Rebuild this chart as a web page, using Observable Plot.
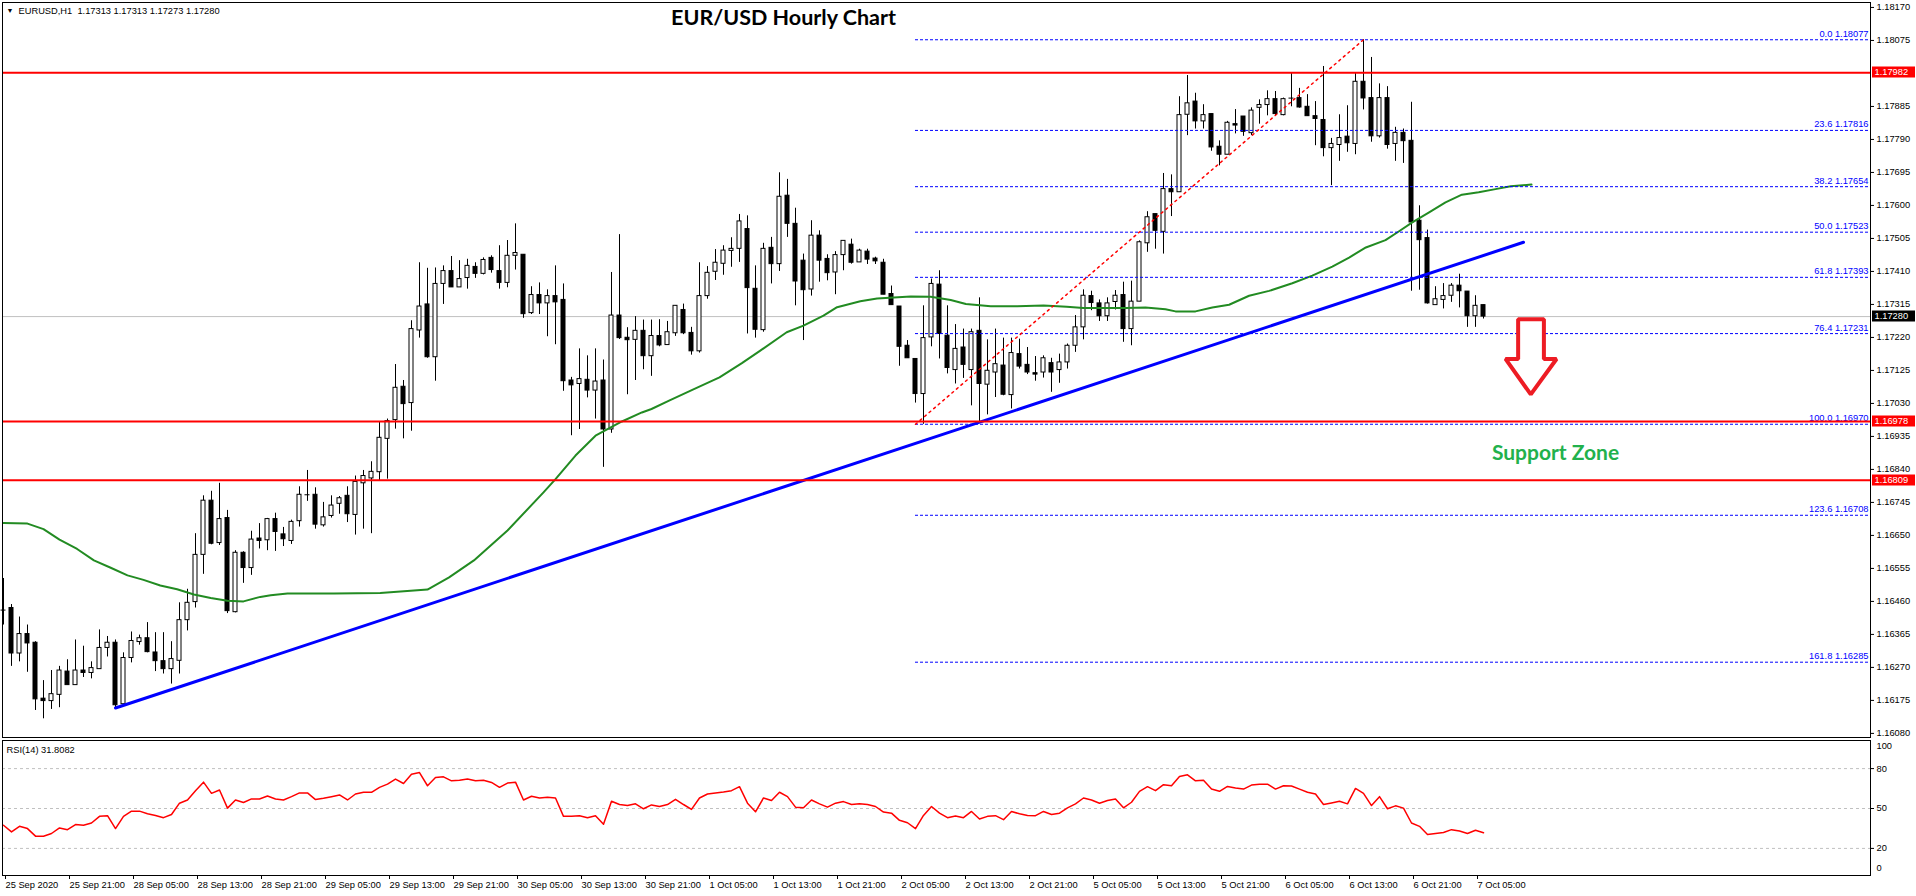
<!DOCTYPE html>
<html><head><meta charset="utf-8">
<script src="https://cdn.jsdelivr.net/npm/d3@7"></script>
<script src="https://cdn.jsdelivr.net/npm/@observablehq/plot@0.6"></script>
<style>
html,body{margin:0;padding:0;background:#fff;}
#chart{width:1916px;height:896px;overflow:hidden;background:#fff;}
#chart svg{display:block;}
</style></head><body><div id="chart"></div>
<script>
// ---------- data ----------
const openP = [1.16435,1.16441,1.16310,1.16366,1.16341,1.16180,1.16173,1.16191,1.16258,1.16219,
1.16261,1.16254,1.16265,1.16326,1.16341,1.16164,1.16297,1.16343,1.16354,1.16313,
1.16288,1.16265,1.16289,1.16406,1.16458,1.16594,1.16750,1.16628,1.16700,1.16429,
1.16600,1.16556,1.16641,1.16636,1.16697,1.16653,1.16634,1.16691,1.16767,1.16767,
1.16679,1.16706,1.16741,1.16764,1.16709,1.16800,1.16814,1.16832,1.16928,1.16982,
1.17078,1.17031,1.17240,1.17315,1.17163,1.17374,1.17411,1.17364,1.17391,1.17423,
1.17403,1.17449,1.17411,1.17377,1.17455,1.17458,1.17290,1.17342,1.17318,1.17339,
1.17328,1.17096,1.17086,1.17098,1.17067,1.17096,1.16955,1.17283,1.17219,1.17213,
1.17239,1.17166,1.17224,1.17198,1.17232,1.17299,1.17233,1.17180,1.17339,1.17409,
1.17432,1.17469,1.17475,1.17532,1.17360,1.17241,1.17478,1.17431,1.17628,1.17547,
1.17441,1.17358,1.17513,1.17446,1.17407,1.17457,1.17487,1.17436,1.17467,1.17447,
1.17435,1.17345,1.17309,1.17196,1.17158,1.17057,1.17220,1.17372,1.17225,1.17126,
1.17191,1.17126,1.17239,1.17084,1.17119,1.17139,1.17054,1.17172,1.17141,1.17117,
1.17119,1.17146,1.17126,1.17148,1.17196,1.17249,1.17339,1.17318,1.17281,1.17322,
1.17342,1.17244,1.17323,1.17491,1.17575,1.17524,1.17647,1.17638,1.17861,1.17899,
1.17842,1.17863,1.17769,1.17746,1.17834,1.17856,1.17808,1.17881,1.17889,1.17906,
1.17860,1.17909,1.17909,1.17884,1.17857,1.17846,1.17765,1.17774,1.17798,1.17777,
1.17956,1.17909,1.17799,1.17909,1.17777,1.17809,1.17786,1.17556,1.17506,1.17313,
1.17328,1.17340,1.17369,1.17352,1.17281,1.17313];
const highP = [1.16526,1.16451,1.16415,1.16392,1.16344,1.16232,1.16261,1.16273,1.16292,1.16349,
1.16331,1.16286,1.16378,1.16359,1.16349,1.16312,1.16372,1.16363,1.16399,1.16370,
1.16370,1.16344,1.16456,1.16495,1.16655,1.16764,1.16777,1.16800,1.16722,1.16606,
1.16603,1.16662,1.16684,1.16699,1.16714,1.16673,1.16694,1.16790,1.16837,1.16787,
1.16745,1.16764,1.16762,1.16790,1.16821,1.16837,1.16862,1.16976,1.16985,1.17142,
1.17096,1.17268,1.17435,1.17419,1.17420,1.17426,1.17453,1.17441,1.17445,1.17435,
1.17449,1.17455,1.17484,1.17499,1.17547,1.17458,1.17366,1.17377,1.17357,1.17426,
1.17374,1.17105,1.17187,1.17167,1.17187,1.17155,1.17407,1.17516,1.17248,1.17280,
1.17270,1.17270,1.17271,1.17266,1.17311,1.17316,1.17249,1.17435,1.17424,1.17473,
1.17484,1.17507,1.17574,1.17570,1.17426,1.17491,1.17508,1.17694,1.17675,1.17592,
1.17460,1.17556,1.17527,1.17458,1.17467,1.17498,1.17503,1.17474,1.17474,1.17451,
1.17445,1.17368,1.17309,1.17211,1.17158,1.17311,1.17388,1.17412,1.17311,1.17257,
1.17244,1.17244,1.17334,1.17213,1.17244,1.17218,1.17218,1.17215,1.17191,1.17165,
1.17167,1.17160,1.17172,1.17201,1.17283,1.17357,1.17353,1.17328,1.17334,1.17355,
1.17379,1.17382,1.17498,1.17582,1.17575,1.17692,1.17688,1.17913,1.17974,1.17923,
1.17890,1.17863,1.17786,1.17842,1.17876,1.17856,1.17881,1.17904,1.17930,1.17928,
1.17909,1.17980,1.17937,1.17919,1.17899,1.18000,1.17793,1.17861,1.17887,1.17980,
1.18077,1.18026,1.17950,1.17942,1.17825,1.17820,1.17897,1.17599,1.17529,1.17366,
1.17375,1.17375,1.17402,1.17352,1.17340,1.17313];
const lowP = [1.16392,1.16273,1.16286,1.16256,1.16146,1.16122,1.16149,1.16154,1.16219,1.16219,
1.16241,1.16237,1.16265,1.16300,1.16154,1.16164,1.16283,1.16334,1.16312,1.16258,
1.16251,1.16222,1.16251,1.16375,1.16441,1.16538,1.16623,1.16621,1.16425,1.16427,
1.16512,1.16535,1.16611,1.16606,1.16604,1.16618,1.16624,1.16674,1.16748,1.16668,
1.16674,1.16700,1.16711,1.16687,1.16651,1.16668,1.16655,1.16806,1.16812,1.16956,
1.16928,1.16950,1.17218,1.17160,1.17094,1.17315,1.17364,1.17364,1.17359,1.17390,
1.17400,1.17405,1.17359,1.17363,1.17414,1.17275,1.17286,1.17286,1.17222,1.17199,
1.17065,1.16937,1.16955,1.17046,1.16985,1.16846,1.16944,1.17214,1.17055,1.17096,
1.17127,1.17108,1.17193,1.17198,1.17223,1.17228,1.17169,1.17175,1.17330,1.17384,
1.17399,1.17422,1.17436,1.17230,1.17218,1.17235,1.17374,1.17410,1.17508,1.17311,
1.17211,1.17339,1.17379,1.17383,1.17343,1.17412,1.17431,1.17436,1.17430,1.17430,
1.17343,1.17313,1.17137,1.17160,1.17031,1.16970,1.17193,1.17158,1.17115,1.17086,
1.17102,1.17023,1.16978,1.16997,1.17047,1.17052,1.17014,1.17129,1.17113,1.17094,
1.17103,1.17062,1.17088,1.17129,1.17177,1.17213,1.17297,1.17266,1.17266,1.17299,
1.17206,1.17196,1.17323,1.17465,1.17474,1.17460,1.17568,1.17638,1.17801,1.17820,
1.17820,1.17756,1.17714,1.17746,1.17806,1.17799,1.17801,1.17834,1.17858,1.17858,
1.17858,1.17884,1.17880,1.17857,1.17772,1.17740,1.17657,1.17727,1.17753,1.17746,
1.17875,1.17782,1.17794,1.17762,1.17727,1.17721,1.17353,1.17356,1.17316,1.17313,
1.17302,1.17321,1.17305,1.17249,1.17249,1.17273];
const closeP = [1.16435,1.16310,1.16366,1.16339,1.16178,1.16173,1.16193,1.16261,1.16219,1.16261,
1.16254,1.16268,1.16326,1.16341,1.16161,1.16297,1.16346,1.16354,1.16314,1.16288,
1.16265,1.16294,1.16406,1.16456,1.16594,1.16750,1.16626,1.16697,1.16432,1.16600,
1.16556,1.16638,1.16634,1.16697,1.16660,1.16639,1.16689,1.16767,1.16767,1.16681,
1.16702,1.16736,1.16757,1.16711,1.16804,1.16821,1.16833,1.16931,1.16979,1.17075,
1.17028,1.17244,1.17309,1.17163,1.17374,1.17411,1.17364,1.17388,1.17426,1.17403,
1.17443,1.17414,1.17377,1.17455,1.17463,1.17287,1.17342,1.17318,1.17339,1.17321,
1.17094,1.17082,1.17100,1.17067,1.17093,1.16955,1.17283,1.17218,1.17212,1.17239,
1.17166,1.17224,1.17197,1.17235,1.17311,1.17232,1.17180,1.17339,1.17406,1.17435,
1.17470,1.17475,1.17554,1.17362,1.17242,1.17475,1.17431,1.17625,1.17547,1.17381,
1.17356,1.17513,1.17441,1.17405,1.17457,1.17498,1.17435,1.17470,1.17444,1.17439,
1.17343,1.17313,1.17193,1.17160,1.17057,1.17218,1.17374,1.17230,1.17132,1.17187,
1.17141,1.17235,1.17086,1.17124,1.17143,1.17055,1.17175,1.17136,1.17119,1.17113,
1.17160,1.17119,1.17148,1.17196,1.17249,1.17340,1.17319,1.17281,1.17318,1.17340,
1.17244,1.17323,1.17494,1.17566,1.17527,1.17647,1.17638,1.17860,1.17894,1.17842,
1.17860,1.17767,1.17746,1.17838,1.17830,1.17812,1.17873,1.17889,1.17906,1.17863,
1.17906,1.17909,1.17882,1.17857,1.17849,1.17765,1.17777,1.17794,1.17779,1.17956,
1.17908,1.17799,1.17909,1.17774,1.17809,1.17785,1.17551,1.17500,1.17318,1.17330,
1.17339,1.17369,1.17353,1.17281,1.17311,1.17280];

const rsiValues = [37.4,32.4,36.6,34.9,29.2,29.2,31.2,35.4,34.1,37.9,
37.4,39.1,44.1,44.6,34.9,44.1,48.0,48.0,46.0,44.8,
43.1,45.5,54.0,56.4,63.4,69.8,61.4,63.9,50.3,56.4,
54.5,57.2,57.2,59.4,57.2,56.4,58.9,61.7,61.7,56.7,
57.7,58.9,60.2,56.4,60.9,62.2,62.2,65.9,68.3,72.1,
68.8,75.8,77.0,67.1,73.3,73.8,70.8,71.3,72.1,70.8,
71.3,69.6,65.9,69.1,69.8,56.4,59.2,57.9,58.4,57.9,
44.1,44.1,44.6,43.1,44.6,38.1,55.5,53.0,52.2,53.5,
49.8,52.7,51.5,53.0,56.9,53.0,49.3,57.9,60.9,61.7,
62.4,63.4,66.4,54.0,47.5,57.9,56.0,62.2,58.9,51.0,
50.5,56.4,53.5,51.0,54.0,55.2,53.0,53.5,53.0,51.5,
47.3,46.5,41.1,39.3,34.9,44.8,51.5,46.5,43.1,44.4,
43.1,47.8,42.1,44.1,44.6,41.6,47.8,46.0,44.8,44.6,
47.8,45.5,46.5,50.5,53.5,57.9,56.4,54.0,56.0,57.2,
50.5,54.7,62.9,66.4,63.4,67.9,67.1,74.1,75.3,70.8,
71.3,64.6,62.9,66.6,65.4,64.6,67.6,68.3,68.3,64.6,
67.1,66.9,64.6,62.2,60.9,53.0,54.2,55.5,53.5,65.1,
61.4,52.2,58.9,49.8,52.0,50.3,39.1,36.6,30.4,31.2,
31.9,34.1,33.1,31.2,33.6,31.8];

const maBars = [0,3,5,7,9.2,11.3,13.4,15.5,17.5,19.6,21.7,23.8,25.9,28,30,32.1,33.4,35.5,41.3,47.1,
53,55.7,58.8,63,67.5,69,71.5,74,77.3,79.8,81,83.2,86.1,89.5,92.3,94.6,97.9,100,102.5,104.2,
107.1,109.2,111.3,113.4,115.9,118.4,120.3,123.4,126.7,130,132.9,135,140.25,142.75,145.25,146.5,149,151.1,153.2,155.7,
158.2,161.1,163.6,166.1,168.2,170.3,172.75,174.4,176.1,178.2,180.25,182.3,184.4,186.5,188.4,191];
const maValues = [1.16686,1.16684,1.16668,1.16638,1.16611,1.16578,1.16557,1.16535,1.16522,1.16506,
1.16495,1.16480,1.16470,1.16462,1.16460,1.16473,1.16478,1.16483,1.16483,1.16484,
1.16494,1.16529,1.16578,1.16664,1.16774,1.16812,1.16880,1.16937,1.16978,1.17004,
1.17014,1.17038,1.17069,1.17105,1.17146,1.17182,1.17235,1.17254,1.17283,1.17307,
1.17324,1.17332,1.17335,1.17338,1.17337,1.17328,1.17316,1.17310,1.17310,1.17312,
1.17308,1.17305,1.17305,1.17306,1.17301,1.17295,1.17295,1.17306,1.17314,1.17340,
1.17354,1.17376,1.17398,1.17424,1.17450,1.17479,1.17500,1.17525,1.17551,1.17580,
1.17609,1.17631,1.17638,1.17647,1.17655,1.17660];

const timeLabelBars = [0,8,16,24,32,40,48,56,64,72,80,88,96,104,112,120,128,136,144,152,160,168,176,184];
const timeLabels = ["25 Sep 2020","25 Sep 21:00","28 Sep 05:00","28 Sep 13:00","28 Sep 21:00","29 Sep 05:00",
"29 Sep 13:00","29 Sep 21:00","30 Sep 05:00","30 Sep 13:00","30 Sep 21:00","1 Oct 05:00","1 Oct 13:00",
"1 Oct 21:00","2 Oct 05:00","2 Oct 13:00","2 Oct 21:00","5 Oct 05:00","5 Oct 13:00","5 Oct 21:00",
"6 Oct 05:00","6 Oct 13:00","6 Oct 21:00","7 Oct 05:00"];
const priceTicks = [1.16080,1.16175,1.16270,1.16365,1.16460,1.16555,1.16650,1.16745,1.16840,1.16935,
1.17030,1.17125,1.17220,1.17315,1.17410,1.17505,1.17600,1.17695,1.17790,1.17885,1.17980,1.18075,1.18170];
const rsiLevels = [80, 50, 20];
const fibRatios = ["0.0","23.6","38.2","50.0","61.8","76.4","100.0","123.6","161.8"];
const fibPrices = [1.18077,1.17816,1.17654,1.17523,1.17393,1.17231,1.16970,1.16708,1.16285];
const fibStartBar = 114;
const supportResistance = [1.17982, 1.16978, 1.16809];
const lastPrice = 1.17280;
const trendBars = [14, 190];
const trendPrices = [1.16153, 1.17494];
const fibDiagBars = [114, 170];
const fibDiagPrices = [1.16970, 1.18077];
const arrowBars = [189.33, 192.55, 192.55, 194.13, 190.91, 187.75, 189.33];
const arrowPrices = [1.17272, 1.17272, 1.17158, 1.17158, 1.17056, 1.17158, 1.17158];
const titleText = "EUR/USD Hourly Chart", titleBar = 97.5, titlePrice = 1.18140;
const zoneText = "Support Zone", zoneBar = 194, zonePrice = 1.16886;
const headerText = "EURUSD,H1  1.17313 1.17313 1.17273 1.17280";
const rsiLabel = "RSI(14) 31.8082";

// ---------- derived tables ----------
const W = 1916;
const xDomain = [-0.125, 233.375];
const priceDomain = [1.16080, 1.18170];
const candles = openP.map((o, i) => ({i, o, h: highP[i], l: lowP[i], c: closeP[i]}));
const bull = candles.filter(d => d.c > d.o);
const bear = candles.filter(d => d.c < d.o);
const doji = candles.filter(d => d.c === d.o);
const ma = maBars.map((b, k) => ({b, v: maValues[k]}));
const fib = fibRatios.map((r, k) => ({r, p: fibPrices[k]}));
const trend = trendBars.map((b, k) => ({b, p: trendPrices[k]}));
const diag = fibDiagBars.map((b, k) => ({b, p: fibDiagPrices[k]}));
const arrow = arrowBars.map((b, k) => ({b, p: arrowPrices[k]}));
const tagPrices = [...supportResistance, lastPrice];
const tagColors = ["#ff0000", "#ff0000", "#ff0000", "#000000"];
const fontMT = "'Liberation Sans', Arial, sans-serif";
const baseStyle = {fontFamily: fontMT, fontSize: "9.3px", background: "white", color: "black", overflow: "visible"};

function priceTags(index, scales, values, dims) {
  const y = scales.y;
  const g = d3.create("svg:g").attr("font-family", fontMT).attr("font-size", "9.3px").attr("text-anchor", "start");
  const x0 = dims.width - dims.marginRight;
  tagPrices.forEach((p, k) => {
    const yy = Math.round(y(p));
    g.append("rect").attr("x", x0 + 2).attr("y", yy - 5.5).attr("width", 43).attr("height", 11).attr("fill", tagColors[k]);
    g.append("text").attr("x", x0 + 4.5).attr("y", yy).attr("dy", "0.35em").attr("text-anchor", "start").attr("fill", "white").text(p.toFixed(5));
  });
  return g.node();
}

const main = Plot.plot({
  width: W, height: 740,
  marginLeft: 2, marginRight: 46, marginTop: 2, marginBottom: 3,
  style: baseStyle,
  x: {domain: xDomain, range: [2, 1870], axis: null},
  y: {domain: priceDomain, range: [732.9, 6.95], axis: null},
  marks: [
    Plot.ruleY([lastPrice], {stroke: "#c0c0c0"}),
    Plot.ruleX(candles, {x: "i", y1: "l", y2: "h", stroke: "black"}),
    Plot.rect(bull, {x1: d => d.i - 0.25, x2: d => d.i + 0.25, y1: "o", y2: "c", fill: "white", stroke: "black"}),
    Plot.rect(bear, {x1: d => d.i - 0.25, x2: d => d.i + 0.25, y1: "o", y2: "c", fill: "black", stroke: "black"}),
    Plot.ruleY(doji, {y: "o", x1: d => d.i - 0.3125, x2: d => d.i + 0.3125, stroke: "black"}),
    Plot.line(ma, {x: "b", y: "v", stroke: "#228b22", strokeWidth: 2}),
    Plot.ruleY(fib, {y: "p", x1: () => fibStartBar, x2: () => xDomain[1], stroke: "#0000ff", strokeDasharray: "3,2"}),
    Plot.text(fib, {x: () => xDomain[1], y: "p", text: d => `${d.r} ${d.p.toFixed(5)}`, textAnchor: "end", dx: -2, dy: -6, fill: "#0000ff"}),
    Plot.line(diag, {x: "b", y: "p", stroke: "#ff0000", strokeDasharray: "2,4"}),
    Plot.line(trend, {x: "b", y: "p", stroke: "#0000ff", strokeWidth: 3}),
    Plot.ruleY(supportResistance, {stroke: "#ff0000", strokeWidth: 2}),
    Plot.line(arrow, {x: "b", y: "p", curve: "linear-closed", fill: "white", stroke: "#ED1C24", strokeWidth: 4, strokeLinejoin: "miter"}),
    Plot.text([titleText], {x: () => titleBar, y: () => titlePrice, text: d => d, fontSize: 21.5, fontWeight: "bold", fontFamily: "Lato, sans-serif"}),
    Plot.text([zoneText], {x: () => zoneBar, y: () => zonePrice, text: d => d, fontSize: 21, fontWeight: "bold", fontFamily: "Lato, sans-serif", fill: "#22B14C"}),
    Plot.text(["▼"], {frameAnchor: "top-left", dx: 4, dy: 6, fontSize: 7, textAnchor: "start"}),
    Plot.text([headerText], {frameAnchor: "top-left", dx: 16, dy: 5, textAnchor: "start"}),
    Plot.frame({stroke: "black"}),
    Plot.axisY({anchor: "right", ticks: priceTicks.filter(t => !tagPrices.some(p => Math.abs(p - t) < 0.00012)), tickFormat: d => d.toFixed(5), tickSize: 3, tickPadding: 3, label: null}),
    priceTags
  ]
});

const rsiPlot = Plot.plot({
  width: W, height: 156,
  marginLeft: 2, marginRight: 46, marginTop: 0, marginBottom: 21,
  style: baseStyle,
  x: {domain: xDomain, range: [2, 1870], axis: null},
  y: {domain: [0, 100], range: [134.5, 1.5], axis: null},
  marks: [
    Plot.ruleY(rsiLevels, {stroke: "#c0c0c0", strokeDasharray: "3,3"}),
    Plot.line(rsiValues, {x: (d, i) => i, y: d => d, stroke: "#ff0000"}),
    Plot.frame({stroke: "black"}),
    Plot.axisY({anchor: "right", ticks: rsiLevels, tickSize: 3, tickPadding: 3, label: null}),
    Plot.axisY({anchor: "right", ticks: [100], tickSize: 0, tickPadding: 6, dy: 4.5, label: null}),
    Plot.axisY({anchor: "right", ticks: [0], tickSize: 0, tickPadding: 6, dy: -6.5, label: null}),
    Plot.axisX({anchor: "bottom", ticks: timeLabelBars, tickFormat: d => timeLabels[timeLabelBars.indexOf(d)], tickSize: 4, tickPadding: 1.5, textAnchor: "start", dx: 2, label: null}),
    Plot.text([rsiLabel], {frameAnchor: "top-left", dx: 4, dy: 6, textAnchor: "start"})
  ]
});

const host = document.getElementById("chart");
host.appendChild(main);
host.appendChild(rsiPlot);
</script>
</body></html>
